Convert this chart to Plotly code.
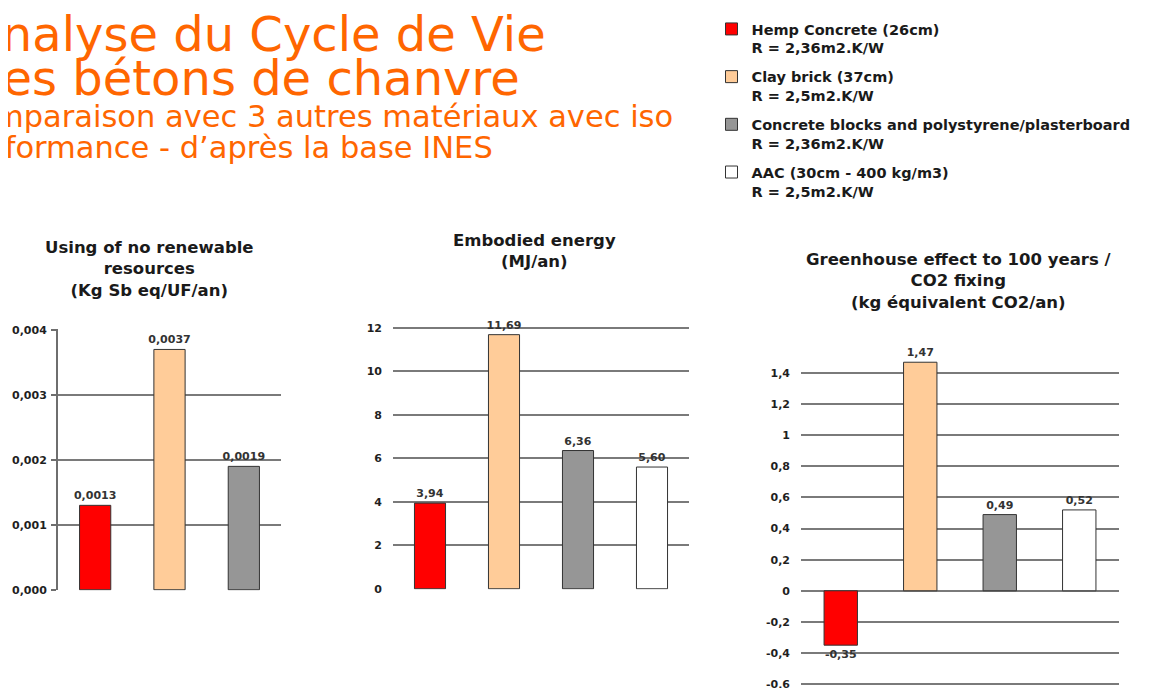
import plotly.graph_objects as go

W, H = 1176, 688

# data
materials = [
    "Hemp Concrete (26cm)",
    "Clay brick (37cm)",
    "Concrete blocks and polystyrene/plasterboard",
    "AAC (30cm - 400 kg/m3)",
]
resistance = ["R = 2,36m2.K/W", "R = 2,5m2.K/W", "R = 2,36m2.K/W", "R = 2,5m2.K/W"]
colors = ["#FF0000", "#FFCC99", "#969696", "#FFFFFF"]

resources = [0.0013, 0.0037, 0.0019, None]
energy = [3.94, 11.69, 6.36, 5.60]
greenhouse = [-0.35, 1.47, 0.49, 0.52]

resources_ticks = [0, 0.001, 0.002, 0.003, 0.004]
resources_ticktext = ["0,000", "0,001", "0,002", "0,003", "0,004"]
energy_ticks = [0, 2, 4, 6, 8, 10, 12]
energy_ticktext = ["0", "2", "4", "6", "8", "10", "12"]
greenhouse_ticks = [-0.6, -0.4, -0.2, 0, 0.2, 0.4, 0.6, 0.8, 1, 1.2, 1.4]
greenhouse_ticktext = ["-0,6", "-0,4", "-0,2", "0", "0,2", "0,4", "0,6", "0,8", "1", "1,2", "1,4"]

title_text = [
    "Analyse du Cycle de Vie",
    "des bétons de chanvre",
    "Comparaison avec 3 autres matériaux avec iso",
    "performance - d’après la base INES",
]

# page placement (screen pixels) -> paper coords
OX, OY, SY = 7, 14, 0.981


def fx(x):
    return (x - OX) / W


def fy(y):
    return 1 - (y - OY) / SY / H


title_pos = [(48, -34, 35), (48, -31, 79), (30.5, -49, 117), (30.5, -49, 148)]

panels = [
    dict(vals=resources, fmt="{:.4f}", ticks=resources_ticks, ticktext=resources_ticktext,
         yrange=[-0.00001, 0.00401], x_px=(57, 280), zero_px=589, unit_px=64750,
         title="Using of no renewable<br>resources<br>(Kg Sb eq/UF/an)", title_xy=(148, 269),
         axis_line=True),
    dict(vals=energy, fmt="{:.2f}", ticks=energy_ticks, ticktext=energy_ticktext,
         yrange=[-0.03, 12.6], x_px=(392, 688), zero_px=588, unit_px=21.67,
         title="Embodied energy<br>(MJ/an)", title_xy=(533, 251),
         axis_line=False),
    dict(vals=greenhouse, fmt="{:.2f}", ticks=greenhouse_ticks, ticktext=greenhouse_ticktext,
         yrange=[-0.61, 1.55], x_px=(800, 1118), zero_px=590, unit_px=155,
         title="Greenhouse effect to 100 years /<br>CO2 fixing<br>(kg équivalent CO2/an)",
         title_xy=(957, 281), axis_line=False),
]

bold = dict(family="DejaVu Sans", weight="bold")

fig = go.Figure()
shown = set()
annotations = []

for k, p in enumerate(panels):
    xa = "x" if k == 0 else f"x{k + 1}"
    ya = "y" if k == 0 else f"y{k + 1}"
    cats = [m for m, v in zip(materials, p["vals"]) if v is not None]
    for i, (m, v) in enumerate(zip(materials, p["vals"])):
        if v is None:
            continue
        fig.add_trace(
            go.Bar(
                x=[m],
                y=[v],
                xaxis=xa,
                yaxis=ya,
                name=m + "<br>" + resistance[i],
                legendgroup=m,
                showlegend=m not in shown,
                marker=dict(color=colors[i], line=dict(color="#333333", width=1)),
                width=0.42,
                text=[p["fmt"].format(v).replace(".", ",")],
                textposition="outside",
                textfont=dict(size=11, color="#333333", **bold),
                constraintext="none",
                cliponaxis=False,
                hoverinfo="skip",
            )
        )
        shown.add(m)

    top_px = p["zero_px"] - p["yrange"][1] * p["unit_px"]
    bot_px = p["zero_px"] - p["yrange"][0] * p["unit_px"]
    x_key = "xaxis" if k == 0 else f"xaxis{k + 1}"
    y_key = "yaxis" if k == 0 else f"yaxis{k + 1}"
    fig.layout[x_key] = dict(
        domain=[fx(p["x_px"][0]), fx(p["x_px"][1])],
        anchor=ya,
        type="category",
        categoryorder="array",
        categoryarray=cats,
        range=[-0.5, len(cats) - 0.5],
        showticklabels=False,
        showgrid=False,
        zeroline=False,
        showline=False,
        fixedrange=True,
    )
    fig.layout[y_key] = dict(
        domain=[fy(bot_px), fy(top_px)],
        anchor=xa,
        range=p["yrange"],
        tickmode="array",
        tickvals=p["ticks"],
        ticktext=p["ticktext"],
        tickfont=dict(size=11, color="#1f1f1f", **bold),
        showgrid=True,
        gridcolor="#7a7a7a",
        gridwidth=1.5,
        zeroline=False,
        showline=p["axis_line"],
        linecolor="#6e6e6e",
        linewidth=2,
        ticks="outside" if p["axis_line"] else "",
        ticklen=5,
        tickcolor="#6e6e6e",
        tickwidth=1.5,
        ticklabelstandoff=2 if p["axis_line"] else 10,
        fixedrange=True,
    )
    annotations.append(dict(
        text=p["title"],
        x=fx(p["title_xy"][0]),
        y=fy(p["title_xy"][1]),
        xref="paper", yref="paper",
        xanchor="center", yanchor="middle",
        showarrow=False,
        align="center",
        font=dict(size=16.5, color="#1a1a1a", **bold),
    ))

for text, (size, x_px, y_px) in zip(title_text, title_pos):
    annotations.append(dict(
        text=text,
        x=fx(x_px),
        y=fy(y_px),
        xref="paper", yref="paper",
        xanchor="left", yanchor="middle",
        showarrow=False,
        font=dict(family="DejaVu Sans", size=size, color="#FF6600"),
    ))

fig.update_layout(
    width=W,
    height=H,
    margin=dict(l=0, r=0, t=0, b=0),
    autosize=False,
    paper_bgcolor="white",
    plot_bgcolor="white",
    barmode="overlay",
    annotations=annotations,
    showlegend=True,
    legend=dict(
        x=703.5 / W,
        xanchor="left",
        y=1,
        yanchor="top",
        font=dict(size=14.5, color="#1a1a1a", **bold),
        valign="top",
        tracegroupgap=7,
        bgcolor="rgba(0,0,0,0)",
    ),
)

fig.write_html("out.html")
